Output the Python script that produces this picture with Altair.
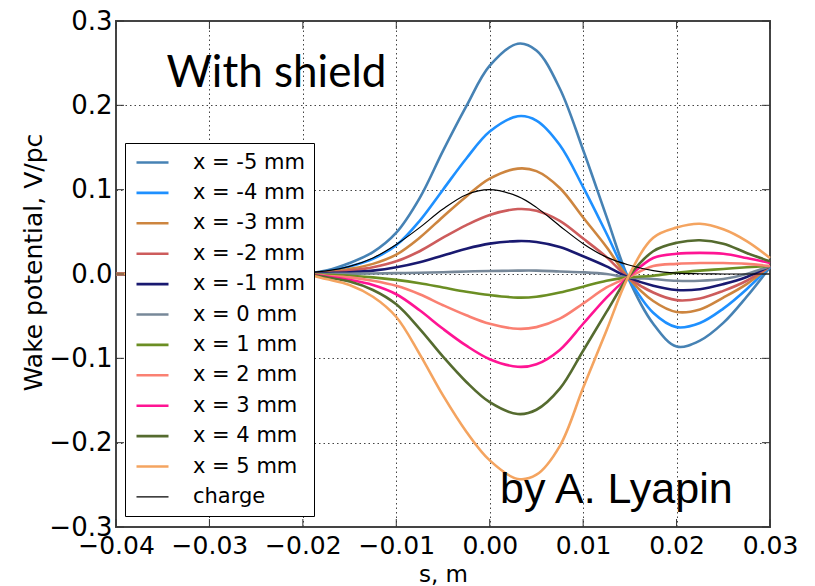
import altair as alt
import pandas as pd

# sample positions along s (m)
s_vals = [-0.04, -0.02, -0.0175, -0.015, -0.0125, -0.01, -0.0075, -0.005, -0.0025, 0.0,
          0.003, 0.005, 0.0075, 0.01, 0.0125, 0.0148, 0.0175, 0.02, 0.0225, 0.025, 0.0275, 0.03]

# wake potential (V/pc)
x_m5 = [0, 0, 0.004, 0.013, 0.026, 0.049, 0.090, 0.146, 0.199, 0.247, 0.273, 0.265, 0.220, 0.147, 0.068, -0.004, -0.059, -0.086, -0.079, -0.058, -0.027, 0.008]
x_m4 = [0, 0, 0.003, 0.009, 0.018, 0.034, 0.063, 0.100, 0.137, 0.169, 0.187, 0.182, 0.153, 0.103, 0.048, -0.004, -0.046, -0.063, -0.058, -0.041, -0.018, 0.009]
x_m3 = [0, 0, 0.002, 0.006, 0.012, 0.023, 0.043, 0.068, 0.092, 0.113, 0.125, 0.122, 0.102, 0.067, 0.032, -0.004, -0.032, -0.045, -0.042, -0.028, -0.012, 0.0095]
x_m2 = [0, 0, 0.001, 0.004, 0.008, 0.015, 0.027, 0.043, 0.058, 0.070, 0.077, 0.075, 0.063, 0.042, 0.020, -0.004, -0.022, -0.031, -0.029, -0.020, -0.008, 0.0095]
x_m1 = [0, 0, 0.001, 0.002, 0.004, 0.008, 0.014, 0.022, 0.030, 0.036, 0.039, 0.038, 0.032, 0.021, 0.009, -0.004, -0.014, -0.019, -0.018, -0.012, -0.0035, 0.0095]
x_0 = [0, 0, 0, 0.0003, 0.0006, 0.001, 0.0015, 0.002, 0.003, 0.0035, 0.004, 0.004, 0.003, 0.002, 0.0, -0.004, -0.006, -0.008, -0.008, -0.006, 0.0, 0.0095]
x_p1 = [0, 0, -0.001, -0.002, -0.004, -0.007, -0.011, -0.016, -0.021, -0.025, -0.028, -0.027, -0.022, -0.015, -0.008, -0.004, -0.002, 0.0015, 0.004, 0.006, 0.008, 0.0095]
x_p2 = [0, 0, -0.002, -0.004, -0.008, -0.014, -0.024, -0.037, -0.049, -0.059, -0.065, -0.063, -0.053, -0.035, -0.016, -0.004, 0.0095, 0.012, 0.013, 0.013, 0.012, 0.0095]
x_p3 = [0, 0, -0.003, -0.007, -0.013, -0.024, -0.043, -0.065, -0.085, -0.101, -0.110, -0.107, -0.090, -0.059, -0.028, -0.004, 0.019, 0.024, 0.025, 0.024, 0.019, 0.013]
x_p4 = [0, 0, -0.004, -0.009, -0.019, -0.036, -0.065, -0.098, -0.128, -0.152, -0.166, -0.161, -0.136, -0.091, -0.045, -0.004, 0.027, 0.037, 0.040, 0.036, 0.025, 0.015]
x_p5 = [0, 0, -0.006, -0.013, -0.027, -0.051, -0.095, -0.144, -0.187, -0.221, -0.243, -0.238, -0.204, -0.135, -0.067, -0.004, 0.043, 0.055, 0.0595, 0.053, 0.039, 0.019]

# bunch charge (starts at s = -0.02)
charge_s = s_vals[1:]
charge = [0.0013, 0.0036, 0.009, 0.019, 0.035, 0.055, 0.077, 0.094, 0.100, 0.092, 0.079, 0.057, 0.036,
          0.020, 0.011, 0.004, 0.001, 0.0003, 0.0, 0.0, 0.0]

names = ["x = -5 mm", "x = -4 mm", "x = -3 mm", "x = -2 mm", "x = -1 mm", "x = 0 mm",
         "x = 1 mm", "x = 2 mm", "x = 3 mm", "x = 4 mm", "x = 5 mm", "charge"]
colors = ["#4682B4", "#1E90FF", "#CD853F", "#CD5C5C", "#191970", "#778899",
          "#6B8E23", "#FA8072", "#FF1493", "#556B2F", "#F4A460", "#000000"]
widths = [2.6] * 11 + [1.2]

x_ticks = [-0.04, -0.03, -0.02, -0.01, 0.0, 0.01, 0.02, 0.03]
y_ticks = [-0.3, -0.2, -0.1, 0.0, 0.1, 0.2, 0.3]

ann_top = ["With shield"]
ann_top_s = [-0.0346]
ann_top_v = [0.222]
ann_bot = ["by A. Lyapin"]
ann_bot_s = [0.0011]
ann_bot_v = [-0.271]

series = [x_m5, x_m4, x_m3, x_m2, x_m1, x_0, x_p1, x_p2, x_p3, x_p4, x_p5]
rows = []
for i, vals in enumerate(series):
    for s, v in zip(s_vals, vals):
        rows.append({"s": s, "v": v, "series": names[i]})
for s, v in zip(charge_s, charge):
    rows.append({"s": s, "v": v, "series": "charge"})
df = pd.DataFrame(rows)

W, H = 654, 506
TL = 8  # inward tick length
xs = alt.Scale(domain=[-0.04, 0.03], nice=False, zero=False)
ys = alt.Scale(domain=[-0.3, 0.3], nice=False, zero=False)
FONT = "DejaVu Sans"

x_axis = alt.Axis(
    orient="bottom", values=x_ticks, format=".2f", grid=True, ticks=False, domain=False,
    labelFlush=False, labelFontSize=25, labelFont=FONT, labelColor="black", labelPadding=6,
    title="s, m", titleFont=FONT, titleFontSize=23, titleFontWeight="normal",
    titleColor="black", titleY=47, titleBaseline="middle",
    gridColor="#444", gridDash=[1.5, 3], gridWidth=1)
y_axis = alt.Axis(
    orient="left", values=y_ticks, format=".1f", grid=True, ticks=False, domain=False,
    labelFlush=False, labelFontSize=26, labelFont=FONT, labelColor="black", labelPadding=4,
    title="Wake potential, V/pc", titleFont=FONT, titleFontSize=25, titleFontWeight="normal",
    titleColor="black", titleX=-83, titleY=241, titleBaseline="middle",
    gridColor="#444", gridDash=[1.5, 3], gridWidth=1)

leg = alt.Legend(
    orient="none", legendX=9, legendY=122, title=None,
    symbolType="M-2,0H2", symbolSize=256,
    labelFontSize=21, labelFont=FONT, labelColor="black", labelLimit=400,
    rowPadding=8.4, padding=9, fillColor="white", strokeColor="black",
    labelOffset=30, symbolOffset=8,
)

lines = alt.Chart(df).mark_line(interpolate="catmull-rom").encode(
    x=alt.X("s:Q", scale=xs, axis=x_axis),
    y=alt.Y("v:Q", scale=ys, axis=y_axis),
    color=alt.Color("series:N", scale=alt.Scale(domain=names, range=colors), legend=leg),
    strokeWidth=alt.StrokeWidth("series:N",
                                scale=alt.Scale(type="ordinal", domain=names, range=widths),
                                legend=leg),
    order=alt.Order("s:Q"),
)

txt1 = alt.Chart(pd.DataFrame({"s": ann_top_s, "v": ann_top_v, "t": ann_top})).mark_text(
    font="Lato", fontSize=44, align="left", baseline="alphabetic", color="black"
).encode(
    x=alt.X("s:Q", scale=xs, axis=x_axis),
    y=alt.Y("v:Q", scale=ys, axis=y_axis),
    text="t:N",
)

txt2 = alt.Chart(pd.DataFrame({"s": ann_bot_s, "v": ann_bot_v, "t": ann_bot})).mark_text(
    font="Liberation Sans", fontSize=43, align="left", baseline="alphabetic", color="black"
).encode(
    x=alt.X("s:Q", scale=xs, axis=x_axis),
    y=alt.Y("v:Q", scale=ys, axis=y_axis),
    text="t:N",
)

xt_df = pd.DataFrame({"s": x_ticks})
yt_df = pd.DataFrame({"v": y_ticks})
tick_style = dict(color="#333", strokeWidth=1)

ticks_bottom = alt.Chart(xt_df).mark_rule(**tick_style).encode(
    x=alt.X("s:Q", scale=xs, axis=x_axis), y=alt.value(H), y2=alt.value(H - TL))
ticks_top = alt.Chart(xt_df).mark_rule(**tick_style).encode(
    x=alt.X("s:Q", scale=xs, axis=x_axis), y=alt.value(0), y2=alt.value(TL))
ticks_left = alt.Chart(yt_df).mark_rule(**tick_style).encode(
    y=alt.Y("v:Q", scale=ys, axis=y_axis), x=alt.value(0), x2=alt.value(TL))
ticks_right = alt.Chart(yt_df).mark_rule(**tick_style).encode(
    y=alt.Y("v:Q", scale=ys, axis=y_axis), x=alt.value(W), x2=alt.value(W - TL))

chart = alt.layer(lines, txt1, txt2, ticks_bottom, ticks_top, ticks_left, ticks_right).properties(
    width=W, height=H,
    autosize=alt.AutoSizeParams(type="none"),
    padding={"left": 116, "top": 21, "right": 45, "bottom": 59},
    background="white",
).configure_view(stroke="#444", strokeWidth=2)

chart.save("out.html", embed_options={"renderer": "svg", "actions": False})
